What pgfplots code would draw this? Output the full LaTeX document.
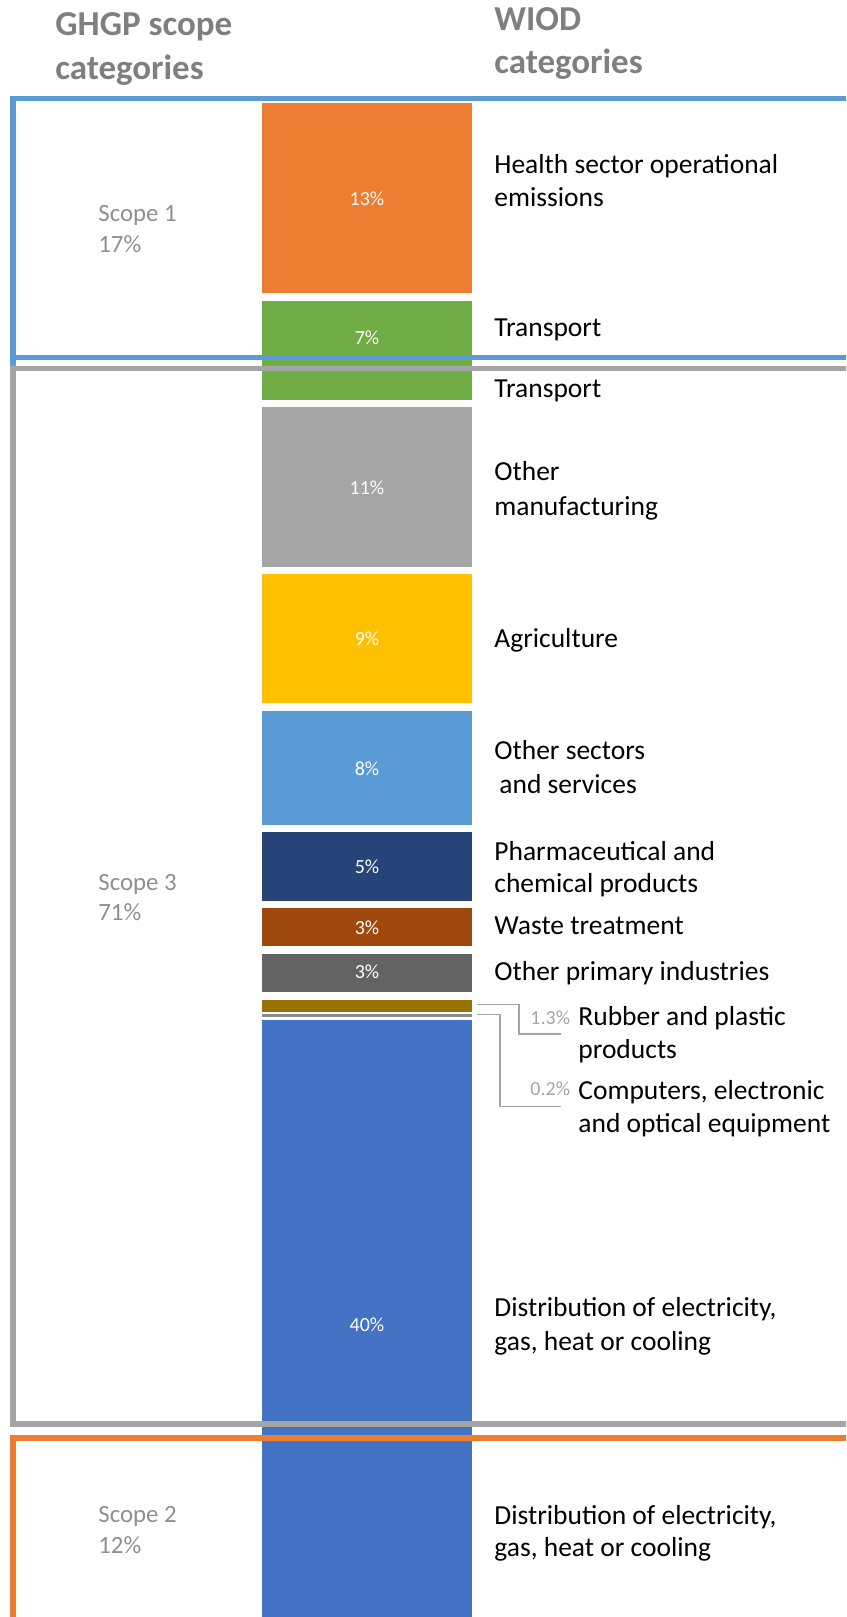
\documentclass[border=0pt]{standalone}
\usepackage{pgfplots}
\pgfplotsset{compat=1.18}
\usepackage{fontspec}
\setmainfont{Carlito}
\definecolor{cOrange}{HTML}{ED7D31}
\definecolor{cGreen}{HTML}{70AD47}
\definecolor{cGray}{HTML}{A5A5A5}
\definecolor{cYellow}{HTML}{FFC000}
\definecolor{cLBlue}{HTML}{5B9BD5}
\definecolor{cNavy}{HTML}{264478}
\definecolor{cBrown}{HTML}{9E480E}
\definecolor{cDGray}{HTML}{636363}
\definecolor{cGold}{HTML}{997300}
\definecolor{cThin}{HTML}{8C8C8C}
\definecolor{cBlue}{HTML}{4472C4}
\definecolor{hdr}{HTML}{7F7F7F}
\definecolor{scp}{HTML}{8F8F8F}
\definecolor{sml}{HTML}{A5A5A5}
\begin{document}
\begin{tikzpicture}[x=0.5pt,y=-0.5pt,
  lab/.style={font=\fontsize{13.75}{16}\selectfont, anchor=base west, inner sep=0pt, text=black},
  barlab/.style={font=\fontsize{10}{12}\selectfont, anchor=base, inner sep=0pt, text=white},
  hd/.style={font=\fontsize{17.5}{20}\selectfont\bfseries, anchor=base west, inner sep=0pt, text=hdr},
  sc/.style={font=\fontsize{12.4}{14}\selectfont, anchor=base west, inner sep=0pt, text=scp},
  sm/.style={font=\fontsize{10}{12}\selectfont, anchor=base east, inner sep=0pt, text=sml}]
\useasboundingbox (0,0) rectangle (846,1617);
\begin{scope}
\clip (0,0) rectangle (846,1617);
\begin{axis}[at={(0,0)}, anchor=north west, scale only axis,
  width=423pt, height=808.5pt,
  xmin=0, xmax=846, ymin=-6.55, ymax=99.9, y dir=reverse,
  hide axis, ybar stacked, reverse stacked plots=false, bar width=218]
\addplot[fill=cOrange, draw=white, line width=3.75pt] coordinates {(367,13)};
\addplot[fill=cGreen, draw=white, line width=3.75pt] coordinates {(367,7)};
\addplot[fill=cGray, draw=white, line width=3.75pt] coordinates {(367,11)};
\addplot[fill=cYellow, draw=white, line width=3.75pt] coordinates {(367,9)};
\addplot[fill=cLBlue, draw=white, line width=3.75pt] coordinates {(367,8)};
\addplot[fill=cNavy, draw=white, line width=3.75pt] coordinates {(367,5)};
\addplot[fill=cBrown, draw=white, line width=3.75pt] coordinates {(367,3)};
\addplot[fill=cDGray, draw=white, line width=3.75pt] coordinates {(367,3)};
\addplot[fill=cGold, draw=white, line width=3.75pt] coordinates {(367,1.3)};
\addplot[fill=cThin, draw=cThin, line width=1.5pt, bar width=207] coordinates {(367,0.2)};
\addplot[fill=cBlue, draw=white, line width=1.75pt, bar width=214] coordinates {(367,40)};
\end{axis}
\draw[cLBlue, line width=2.75pt] (13,900) -- (13,98.5) -- (900,98.5);
\draw[cLBlue, line width=2.75pt] (13,98.5) -- (13,357.5) -- (900,357.5);
\draw[cGray, line width=2.75pt] (900,368.3) -- (13,368.3) -- (13,1424) -- (900,1424);
\draw[cOrange, line width=2.75pt] (900,1438) -- (13,1438) -- (13,1700);
\end{scope}
\draw[sml, line width=0.75pt] (476.7,1004.3) -- (519,1004.3) -- (519,1034) -- (561,1034);
\draw[sml, line width=0.75pt] (476.7,1014.3) -- (500,1014.3) -- (500,1106.7) -- (561,1106.7);
% headers
\node[hd] at (55,35) {GHGP scope};
\node[hd] at (55,79) {categories};
\node[hd] at (494,30) {WIOD};
\node[hd] at (494,73) {categories};
% scope labels
\node[sc] at (98,221.7) {Scope 1};
\node[sc] at (98,252) {17\%};
\node[sc] at (98,890) {Scope 3};
\node[sc] at (98,920.5) {71\%};
\node[sc] at (98,1522.6) {Scope 2};
\node[sc] at (98,1553) {12\%};
% bar labels
\node[barlab] at (367,205) {13\%};
\node[barlab] at (367,344) {7\%};
\node[barlab] at (367,494) {11\%};
\node[barlab] at (367,645) {9\%};
\node[barlab] at (367,775) {8\%};
\node[barlab] at (367,873) {5\%};
\node[barlab] at (367,934) {3\%};
\node[barlab] at (367,978) {3\%};
\node[barlab] at (367,1331) {40\%};
% small labels
\node[sm] at (570.5,1024) {1.3\%};
\node[sm] at (570.5,1095.5) {0.2\%};
% category labels
\node[lab] at (494,173.5) {Health sector operational};
\node[lab] at (494,206.7) {emissions};
\node[lab] at (494,336.5) {Transport};
\node[lab] at (494,397.5) {Transport};
\node[lab] at (494,480) {Other};
\node[lab] at (494,515) {manufacturing};
\node[lab] at (494,647) {Agriculture};
\node[lab] at (494,759.5) {Other sectors};
\node[lab] at (499,793.5) {and services};
\node[lab] at (494,860.5) {Pharmaceutical and};
\node[lab] at (494,892.5) {chemical products};
\node[lab] at (494,934) {Waste treatment};
\node[lab] at (494,980.5) {Other primary industries};
\node[lab] at (578,1025.5) {Rubber and plastic};
\node[lab] at (578,1058.5) {products};
\node[lab] at (578,1099) {Computers, electronic};
\node[lab] at (578,1132) {and optical equipment};
\node[lab] at (494,1316.5) {Distribution of electricity,};
\node[lab] at (494,1350.5) {gas, heat or cooling};
\node[lab] at (494,1524) {Distribution of electricity,};
\node[lab] at (494,1556) {gas, heat or cooling};
\end{tikzpicture}
\end{document}
